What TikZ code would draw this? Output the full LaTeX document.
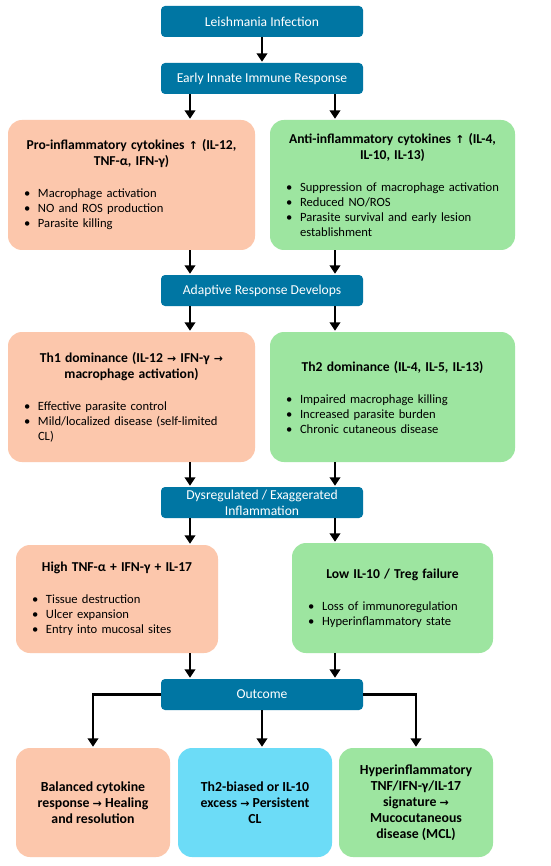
\documentclass[tikz,border=0pt]{standalone}
\usepackage{fontspec}
\setmainfont{Carlito}
\newfontfamily\symf[Scale=0.8]{DejaVu Sans}
\usetikzlibrary{arrows.meta}
\definecolor{hblue}{RGB}{0,118,163}
\definecolor{salmon}{RGB}{252,199,172}
\definecolor{mint}{RGB}{157,229,160}
\definecolor{sky}{RGB}{108,220,247}
\newcommand{\uarr}{{\symf ↑}}
\newcommand{\rarr}{{\symf →}}
\newcommand{\bttl}[1]{{\centering\bfseries\fontsize{13.6}{16}\selectfont #1\par}\vspace{17pt}}
\newcommand{\bul}[1]{\noindent\hangindent=14pt\hangafter=1\makebox[14pt][l]{\textbullet}#1\par}
\tikzset{
  hdr/.style={fill=hblue, rounded corners=4pt, minimum width=202pt, minimum height=31pt,
    text=white, font=\fontsize{13.6}{16}\selectfont, align=center, inner sep=0pt},
  card/.style={rounded corners=14pt, inner xsep=16pt, inner ysep=0pt,
    font=\fontsize{12.6}{15}\selectfont},
  outc/.style={rounded corners=14pt, inner sep=0pt, minimum width=154pt, minimum height=109pt,
    align=center, font=\bfseries\fontsize{13.8}{16}\selectfont},
  arr/.style={line width=2.8pt, -{Triangle[width=10.5pt,length=8.5pt]}, shorten >=1pt}
}
\begin{document}
\begin{tikzpicture}[x=1pt,y=-1pt]
\useasboundingbox (0,0) rectangle (550,866);
\fill[white] (0,0) rectangle (550,866);
\coordinate (cl) at (190,0);
\coordinate (cr) at (335,0);

\node[hdr] (h1) at (262,21.5) {Leishmania Infection};
\node[hdr] (h2) at (262,78.5) {Early Innate Immune Response};
\node[hdr] (h3) at (262,290.5) {Adaptive Response Develops};
\node[hdr] (h4) at (262,502.5) {Dysregulated / Exaggerated\\Inflammation};
\node[hdr] (h5) at (262,694.5) {Outcome};

\node[card, fill=salmon, minimum width=247pt, minimum height=130pt, text width=215pt] (pro) at (131.5,185)
 {\bttl{Pro-inflammatory cytokines \uarr{} (IL-12,\\TNF-α, IFN-γ)}%
  \bul{Macrophage activation}\bul{NO and ROS production}\bul{Parasite killing}};
\node[card, fill=mint, minimum width=245pt, minimum height=130pt, text width=213pt] (anti) at (392.5,185)
 {\bttl{Anti-inflammatory cytokines \uarr{} (IL-4,\\IL-10, IL-13)}%
  \bul{Suppression of macrophage activation}\bul{Reduced NO/ROS}\bul{Parasite survival and early lesion\newline establishment}};

\node[card, fill=salmon, minimum width=247pt, minimum height=130pt, text width=215pt] (th1) at (131.5,397)
 {\bttl{Th1 dominance (IL-12 \rarr{} IFN-γ \rarr\\macrophage activation)}%
  \bul{Effective parasite control}\bul{Mild/localized disease (self-limited\newline CL)}};
\node[card, fill=mint, minimum width=245pt, minimum height=130pt, text width=213pt] (th2) at (392.5,397)
 {\bttl{Th2 dominance (IL-4, IL-5, IL-13)}%
  \bul{Impaired macrophage killing}\bul{Increased parasite burden}\bul{Chronic cutaneous disease}};

\node[card, fill=salmon, minimum width=202pt, minimum height=108pt, text width=170pt] (high) at (117,599)
 {\bttl{High TNF-α + IFN-γ + IL-17}%
  \bul{Tissue destruction}\bul{Ulcer expansion}\bul{Entry into mucosal sites}};
\node[card, fill=mint, minimum width=201pt, minimum height=110pt, text width=169pt] (low) at (392.5,598)
 {\bttl{Low IL-10 / Treg failure}%
  \bul{Loss of immunoregulation}\bul{Hyperinflammatory state}};

\node[outc, fill=salmon] (o1) at (93,802.5) {Balanced cytokine\\response \rarr{} Healing\\and resolution};
\node[outc, fill=sky] (o2) at (255,802.5) {Th2-biased or IL-10\\excess \rarr{} Persistent\\CL};
\node[outc, fill=mint] (o3) at (416,802.5) {Hyperinflammatory\\TNF/IFN-γ/IL-17\\signature \rarr\\Mucocutaneous\\disease (MCL)};

\draw[arr] (h1.south) -- (h2.north);
\draw[arr] (h2.south -| cl) -- (pro.north -| cl);
\draw[arr] (h2.south -| cr) -- (anti.north -| cr);
\draw[arr] (pro.south -| cl) -- (h3.north -| cl);
\draw[arr] (anti.south -| cr) -- (h3.north -| cr);
\draw[arr] (h3.south -| cl) -- (th1.north -| cl);
\draw[arr] (h3.south -| cr) -- (th2.north -| cr);
\draw[arr] (th1.south -| cl) -- (h4.north -| cl);
\draw[arr] (th2.south -| cr) -- (h4.north -| cr);
\draw[arr] (h4.south -| cl) -- (high.north -| cl);
\draw[arr] (h4.south -| cr) -- (low.north -| cr);
\draw[arr] (high.south -| cl) -- (h5.north -| cl);
\draw[arr] (low.south -| cr) -- (h5.north -| cr);
\draw[arr] (h5.west) -| (o1.north);
\draw[arr] (h5.south) -- (h5.south |- o2.north);
\draw[arr] (h5.east) -| (o3.north);
\end{tikzpicture}
\end{document}
